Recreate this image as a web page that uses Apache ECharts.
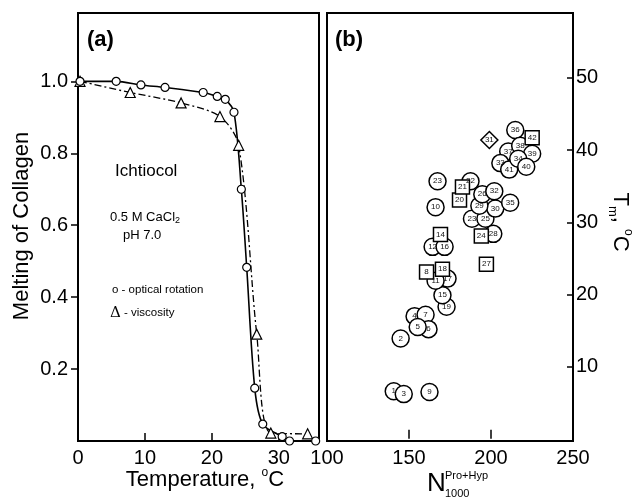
<!DOCTYPE html>
<html>
<head>
<meta charset="utf-8">
<script src="https://cdn.jsdelivr.net/npm/echarts@6/dist/echarts.min.js"></script>
<style>
html, body { margin: 0; padding: 0; background: #fff; }
#chart { width: 633px; height: 499px; }
</style>
</head>
<body>
<div id="chart"></div>
<script>
// panel (a): melting of ichtiocol collagen
var tempOptical = [0.3, 5.7, 9.4, 13.0, 18.7, 20.8, 22.0, 23.3, 24.4, 25.2, 26.4, 27.6, 30.5, 31.6, 35.5];
var meltOptical = [1.0, 1.0, 0.99, 0.983, 0.969, 0.958, 0.95, 0.914, 0.70, 0.483, 0.147, 0.047, 0.012, 0.0, 0.0];
var tempVisc = [0.3, 7.8, 15.4, 21.2, 24.0, 26.7, 28.8, 34.3];
var meltVisc = [1.0, 0.969, 0.94, 0.902, 0.822, 0.297, 0.022, 0.02];

var tempTicks = [0, 10, 20, 30];
var meltTicks = [0.2, 0.4, 0.6, 0.8, 1.0];

// panel (b): Tm against number of Pro+Hyp per 1000 residues
var circleId = ['1', '3', '2', '4', '7', '6', '5', '9', '10', '19', '15', '17', '11', '12', '16', '23', '22',
    '28', '23', '25', '30', '29', '26', '32', '35', '36', '37', '38', '39', '33', '41', '34', '40'];
var circleN = [140.7, 146.8, 144.9, 153.4, 160.1, 161.9, 155.3, 162.5, 166.2, 172.9, 170.4, 173.5, 166.2, 164.4, 171.7, 167.4, 187.5,
    201.4, 188.4, 196.6, 202.6, 192.9, 194.7, 202.0, 211.7, 214.8, 210.5, 217.8, 225.1, 205.7, 211.1, 216.6, 221.5];
var circleTm = [6.6, 6.2, 13.9, 17.0, 17.2, 15.2, 15.5, 6.5, 32.1, 18.3, 19.9, 22.2, 21.9, 26.6, 26.6, 35.7, 35.7,
    28.4, 30.5, 30.5, 31.9, 32.3, 33.9, 34.3, 32.7, 42.8, 39.8, 40.6, 39.5, 38.2, 37.3, 38.8, 37.7];

var squareId = ['8', '14', '18', '20', '21', '24', '27', '42'];
var squareN = [160.7, 169.2, 170.4, 180.8, 182.6, 194.1, 197.2, 225.1];
var squareTm = [23.1, 28.3, 23.5, 33.1, 34.9, 28.1, 24.2, 41.7];

var diamondId = ['31'];
var diamondN = [199.0];
var diamondTm = [41.4];

var nTicks = [100, 150, 200, 250];
var nInnerTicks = [150, 200];
var tmTicks = [10, 20, 30, 40, 50];

var FONT = '"Liberation Sans", Arial, Helvetica, sans-serif';

function pairs(xs, ys, ids) {
    return xs.map(function (x, i) {
        return ids ? [x, ys[i], ids[i]] : [x, ys[i]];
    });
}

function numbered(symbol, size, xs, ys, ids) {
    return {
        type: 'scatter',
        xAxisIndex: 1,
        yAxisIndex: 1,
        symbol: symbol,
        symbolSize: size,
        data: pairs(xs, ys, ids),
        itemStyle: { color: '#fff', borderColor: '#000', borderWidth: 1.5, opacity: 1 },
        label: {
            show: true,
            position: 'inside',
            formatter: function (p) { return p.value[2]; },
            fontSize: 8,
            color: '#111',
            fontFamily: FONT
        },
        emphasis: { disabled: true }
    };
}

var tickLabel = { color: '#000', fontSize: 20, fontFamily: FONT };

var myChart = echarts.init(document.getElementById('chart'));
var option = {
    animation: false,
    backgroundColor: '#fff',
    grid: [
        { left: 78, top: 13, width: 241, height: 428, show: true, borderColor: '#000', borderWidth: 2, backgroundColor: 'transparent' },
        { left: 327, top: 13, width: 246, height: 428, show: true, borderColor: '#000', borderWidth: 2, backgroundColor: 'transparent' }
    ],
    xAxis: [
        {
            gridIndex: 0, type: 'value', min: 0, max: 36,
            axisLine: { show: false },
            splitLine: { show: false },
            axisTick: { show: true, inside: true, length: 8, customValues: tempTicks, lineStyle: { color: '#000', width: 1.5 } },
            axisLabel: Object.assign({ margin: 7, customValues: tempTicks }, tickLabel)
        },
        {
            gridIndex: 1, type: 'value', min: 100, max: 250,
            axisLine: { show: false },
            splitLine: { show: false },
            axisTick: { show: true, inside: true, length: 9, customValues: nInnerTicks, lineStyle: { color: '#000', width: 1.5 } },
            axisLabel: Object.assign({ margin: 7, customValues: nTicks }, tickLabel)
        }
    ],
    yAxis: [
        {
            gridIndex: 0, type: 'value', min: 0, max: 1.19,
            axisLine: { show: false },
            splitLine: { show: false },
            axisTick: { show: true, inside: false, length: 7, customValues: meltTicks, lineStyle: { color: '#000', width: 1.5 } },
            axisLabel: Object.assign({ margin: 10, customValues: meltTicks, formatter: function (v) { return v.toFixed(1); } }, tickLabel)
        },
        {
            gridIndex: 1, type: 'value', position: 'right', min: -0.3, max: 59,
            axisLine: { show: false },
            splitLine: { show: false },
            axisTick: { show: true, inside: true, length: 6, customValues: tmTicks, lineStyle: { color: '#000', width: 1.5 } },
            axisLabel: Object.assign({ margin: 3, customValues: tmTicks }, tickLabel)
        }
    ],
    series: [
        {
            name: 'viscosity',
            type: 'line',
            xAxisIndex: 0, yAxisIndex: 0,
            data: pairs(tempVisc, meltVisc),
            smooth: 0.3,
            symbol: 'triangle',
            symbolSize: 10,
            showAllSymbol: true,
            lineStyle: { color: '#000', width: 1.3, type: [7, 3, 2, 3] },
            itemStyle: { color: '#fff', borderColor: '#000', borderWidth: 1.2 },
            emphasis: { disabled: true }
        },
        {
            name: 'optical rotation',
            type: 'line',
            xAxisIndex: 0, yAxisIndex: 0,
            data: pairs(tempOptical, meltOptical),
            smooth: 0.3,
            symbol: 'circle',
            symbolSize: 8,
            showAllSymbol: true,
            lineStyle: { color: '#000', width: 1.6 },
            itemStyle: { color: '#fff', borderColor: '#000', borderWidth: 1.2 },
            emphasis: { disabled: true }
        },
        numbered('circle', 17, circleN, circleTm, circleId),
        numbered('rect', 14, squareN, squareTm, squareId),
        numbered('diamond', 17, diamondN, diamondTm, diamondId)
    ],
    graphic: [
        // panel letters
        { type: 'text', x: 87, y: 40, style: { text: '(a)', fontSize: 22, fontWeight: 'bold', fontFamily: FONT, fill: '#000', verticalAlign: 'middle', textVerticalAlign: 'middle' } },
        { type: 'text', x: 335, y: 40, style: { text: '(b)', fontSize: 22, fontWeight: 'bold', fontFamily: FONT, fill: '#000', verticalAlign: 'middle', textVerticalAlign: 'middle' } },
        // panel (a) notes
        { type: 'text', x: 115, y: 171, style: { text: 'Ichtiocol', fontSize: 17, fontFamily: FONT, fill: '#000', verticalAlign: 'middle', textVerticalAlign: 'middle' } },
        { type: 'text', x: 110, y: 217, style: {
            text: '{a|0.5 M CaCl}{s|2}',
            verticalAlign: 'middle', textVerticalAlign: 'middle',
            rich: {
                a: { fontSize: 13, fontFamily: FONT, fill: '#000', color: '#000', lineHeight: 16 },
                s: { fontSize: 9, fontFamily: FONT, fill: '#000', color: '#000', lineHeight: 16, verticalAlign: 'bottom' }
            }
        } },
        { type: 'text', x: 123, y: 235, style: { text: 'pH 7.0', fontSize: 13, fontFamily: FONT, fill: '#000', verticalAlign: 'middle', textVerticalAlign: 'middle' } },
        { type: 'text', x: 112, y: 290, style: { text: 'o - optical rotation', fontSize: 11.5, fontFamily: FONT, fill: '#000', verticalAlign: 'middle', textVerticalAlign: 'middle' } },
        { type: 'text', x: 110, y: 313, style: {
            text: '{d|\u0394}{a| - viscosity}',
            verticalAlign: 'middle', textVerticalAlign: 'middle',
            rich: {
                d: { fontSize: 15, fontFamily: '"DejaVu Serif", serif', fill: '#000', color: '#000' },
                a: { fontSize: 11.5, fontFamily: FONT, fill: '#000', color: '#000' }
            }
        } },
        // axis titles
        { type: 'text', x: 22, y: 226, rotation: Math.PI / 2, style: {
            text: 'Melting of Collagen', fontSize: 22, fontFamily: FONT, fill: '#000',
            align: 'center', textAlign: 'center', verticalAlign: 'middle', textVerticalAlign: 'middle'
        } },
        { type: 'text', x: 205, y: 480, style: {
            text: '{a|Temperature, }{s|o}{a|C}',
            align: 'center', textAlign: 'center', verticalAlign: 'middle', textVerticalAlign: 'middle',
            rich: {
                a: { fontSize: 22, fontFamily: FONT, color: '#000', lineHeight: 26 },
                s: { fontSize: 12, fontFamily: FONT, color: '#000', lineHeight: 26, verticalAlign: 'top' }
            }
        } },
        { type: 'text', x: 427, y: 484, style: { text: 'N', fontSize: 26, fontFamily: FONT, fill: '#000', verticalAlign: 'middle', textVerticalAlign: 'middle' } },
        { type: 'text', x: 445, y: 476, style: { text: 'Pro+Hyp', fontSize: 11, fontFamily: FONT, fill: '#000', verticalAlign: 'middle', textVerticalAlign: 'middle' } },
        { type: 'text', x: 445, y: 494, style: { text: '1000', fontSize: 11, fontFamily: FONT, fill: '#000', verticalAlign: 'middle', textVerticalAlign: 'middle' } },
        { type: 'text', x: 620, y: 222, rotation: -Math.PI / 2, style: {
            text: '{a|T}{b|m}{a|, }{s|o}{a|C}',
            align: 'center', textAlign: 'center', verticalAlign: 'middle', textVerticalAlign: 'middle',
            rich: {
                a: { fontSize: 22, fontFamily: FONT, color: '#000', lineHeight: 28 },
                b: { fontSize: 13, fontFamily: FONT, color: '#000', lineHeight: 28, verticalAlign: 'bottom' },
                s: { fontSize: 12, fontFamily: FONT, color: '#000', lineHeight: 28, verticalAlign: 'top' }
            }
        } }
    ]
};
myChart.setOption(option);
</script>
</body>
</html>
